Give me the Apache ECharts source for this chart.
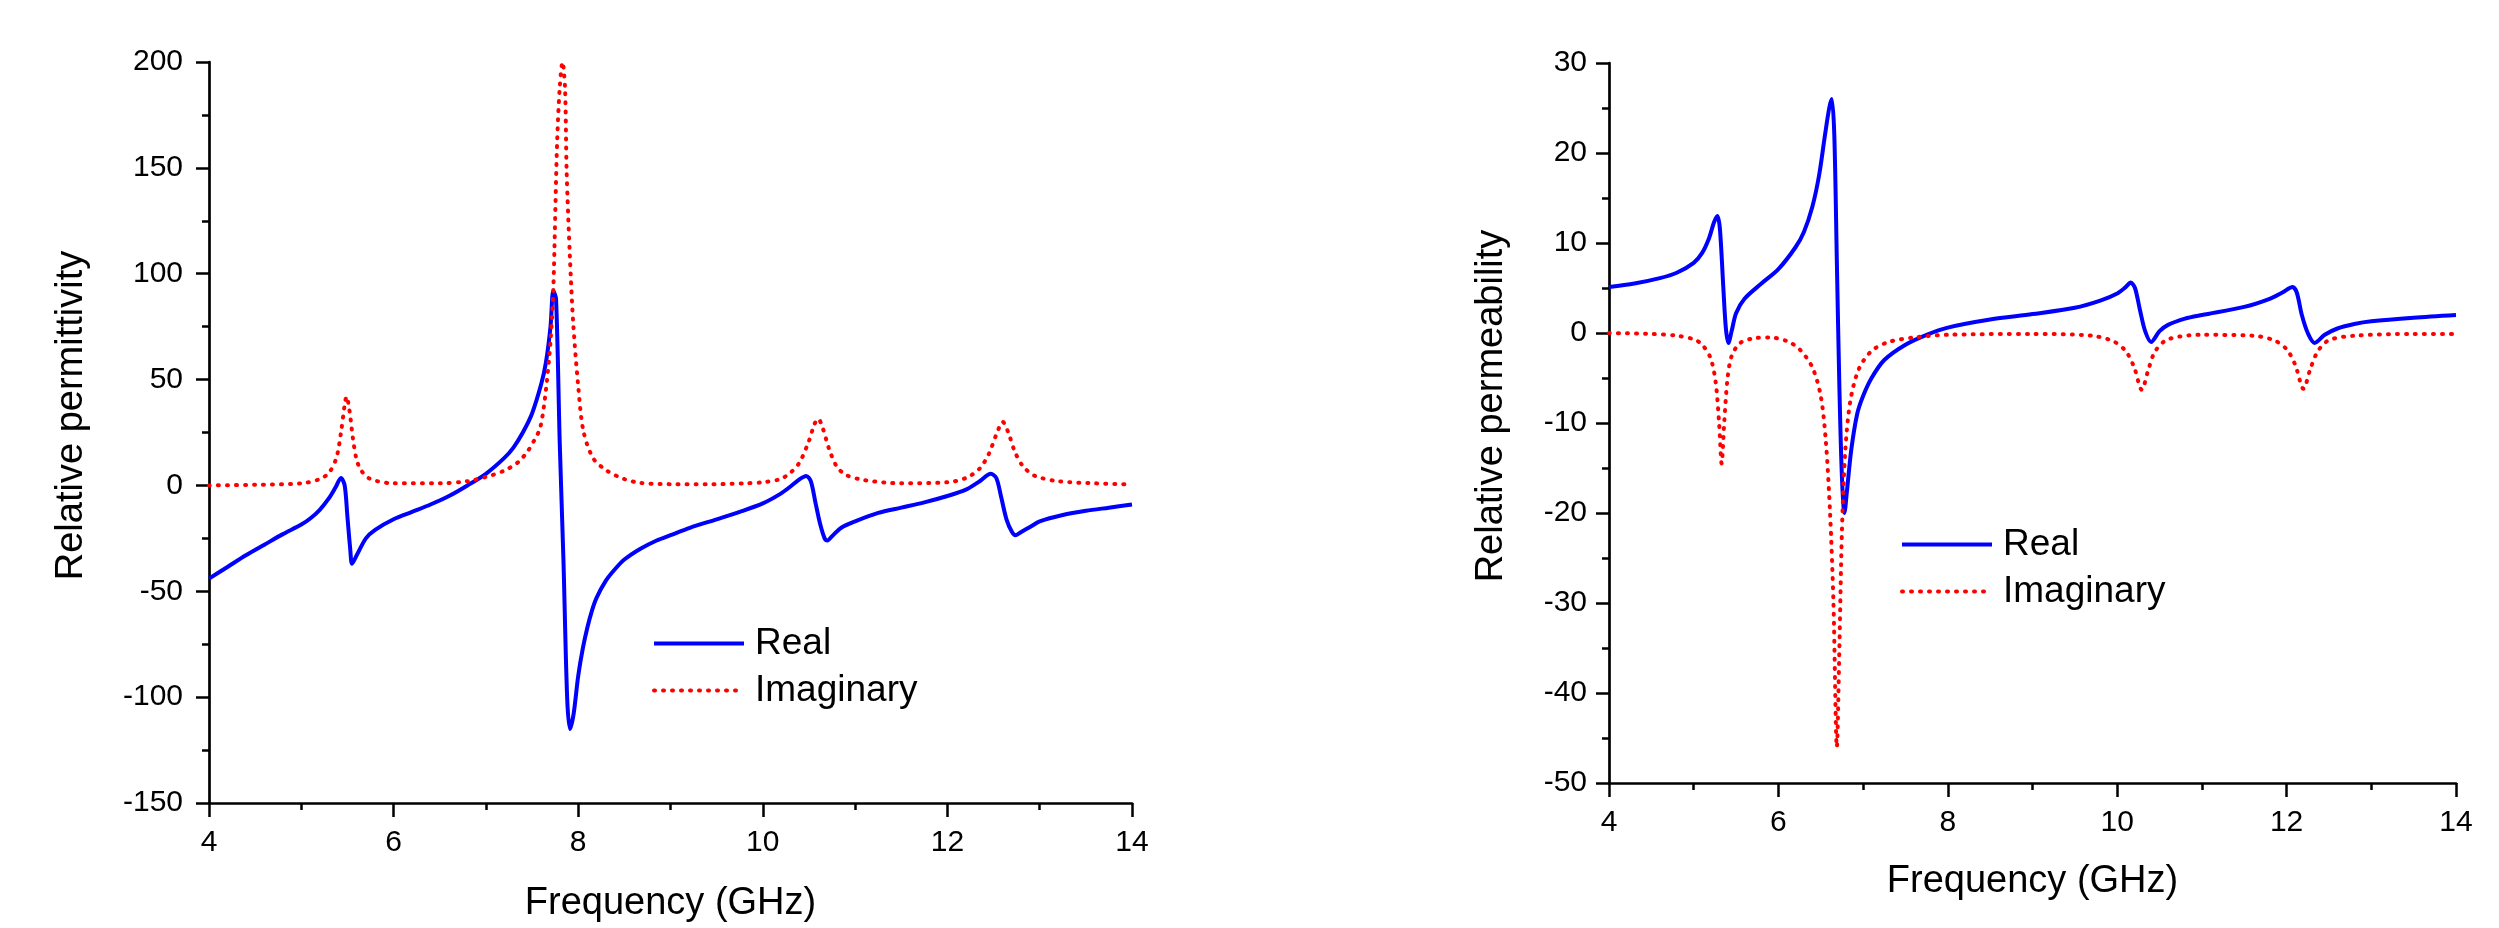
<!DOCTYPE html>
<html style="height: 100%">
<head>
  <meta charset="utf-8" />
  <title>Relative permittivity and permeability</title>
  <script src="https://cdn.jsdelivr.net/npm/echarts@6/dist/echarts.min.js"></script>
</head>
<body style="height: 100%; margin: 0; background: #fff">
  <div id="chart" style="width: 2499px; height: 928px"></div>
  <script>
    // permittivity (left panel)
    const epsRealFreq = [4.0, 4.2, 4.4, 4.6, 4.8, 5.0, 5.1, 5.2, 5.3, 5.37, 5.43, 5.47, 5.5, 5.53, 5.55, 5.6, 5.7, 5.8, 6.0, 6.2, 6.4, 6.6, 6.8, 7.0, 7.2, 7.3, 7.4, 7.5, 7.6, 7.65, 7.7, 7.73, 7.76, 7.8, 7.84, 7.88, 7.91, 7.95, 8.0, 8.05, 8.1, 8.15, 8.2, 8.3, 8.4, 8.5, 8.67, 8.85, 9.0, 9.21, 9.5, 9.75, 10.0, 10.19, 10.3, 10.4, 10.47, 10.52, 10.57, 10.62, 10.67, 10.7, 10.75, 10.85, 11.0, 11.25, 11.5, 11.75, 12.0, 12.2, 12.35, 12.47, 12.53, 12.58, 12.64, 12.7, 12.74, 12.8, 12.9, 13.0, 13.25, 13.5, 13.75, 14.0];
    const epsReal = [-44, -38.5, -33, -28, -23, -18.5, -15.5, -11.5, -6, -1, 3.5, 0, -15, -30, -37, -33, -25, -21, -16, -12.5, -9, -5, 0, 5.5, 13, 18, 25, 34, 48, 58, 75, 92, 88, 20, -35, -100, -115, -108, -90, -77, -67, -59, -53, -45, -39.5, -35, -30, -26, -23.5, -20, -16, -12.5, -8.5, -4, -0.5, 3, 4.5, 2, -8, -18, -25, -26, -24, -20, -17, -13, -10.5, -8, -5, -2, 2, 5.5, 3.5, -5, -16, -22, -23.5, -22, -19.5, -17, -14, -12, -10.5, -9];
    const epsImagFreq = [4.0, 4.5, 5.0, 5.2, 5.3, 5.38, 5.43, 5.47, 5.49, 5.52, 5.56, 5.6, 5.65, 5.75, 6.0, 6.5, 6.8, 7.0, 7.2, 7.35, 7.45, 7.52, 7.59, 7.65, 7.7, 7.73, 7.77, 7.8, 7.83, 7.857, 7.875, 7.91, 7.947, 8.0, 8.055, 8.16, 8.31, 8.5, 8.67, 9.0, 9.4, 9.8, 10.0, 10.19, 10.3, 10.4, 10.5, 10.56, 10.6, 10.65, 10.72, 10.8, 10.9, 11.1, 11.5, 12.0, 12.2, 12.35, 12.45, 12.53, 12.6, 12.66, 12.73, 12.82, 12.95, 13.2, 13.6, 14.0];
    const epsImag = [0, 0.3, 1, 3, 6, 13, 25, 38, 42, 36, 22, 12, 7, 3, 1, 1, 2, 4, 7, 11, 16, 21, 27.5, 45, 68, 92, 160, 188, 200, 188, 148, 108, 76, 47, 26, 13, 7, 3, 1.2, 0.6, 0.5, 1, 1.5, 3, 6, 11, 21, 29, 31.5, 27, 17, 9, 5, 2.5, 1, 1.5, 3.5, 8, 15, 24, 30, 25, 16, 9, 4.5, 2, 1, 0.5];

    // permeability (right panel)
    const muRealFreq = [4.0, 4.3, 4.6, 4.8, 5.0, 5.1, 5.18, 5.24, 5.28, 5.31, 5.35, 5.38, 5.41, 5.45, 5.5, 5.6, 5.8, 6.0, 6.2, 6.3, 6.4, 6.48, 6.55, 6.6, 6.63, 6.66, 6.69, 6.72, 6.75, 6.78, 6.81, 6.86, 6.93, 7.0, 7.1, 7.25, 7.5, 7.75, 8.0, 8.5, 9.0, 9.5, 9.8, 10.0, 10.1, 10.16, 10.21, 10.27, 10.33, 10.4, 10.5, 10.6, 10.8, 11.0, 11.5, 11.8, 11.95, 12.07, 12.12, 12.18, 12.25, 12.33, 12.45, 12.6, 12.8, 13.0, 13.5, 14.0];
    const muReal = [5.1, 5.5, 6.1, 6.7, 7.8, 8.9, 10.5, 12.3, 13, 11.5, 5, 0.5, -1.1, 0.3, 2.2, 3.8, 5.5, 7.1, 9.5, 11.2, 14, 17.5, 22, 25, 26, 22, 8, -6, -16, -20, -17.5, -13, -9, -7, -5, -3, -1.3, -0.2, 0.6, 1.5, 2.1, 2.8, 3.6, 4.4, 5.1, 5.6, 5, 2.5, 0.2, -1, 0.2, 0.9, 1.6, 2, 2.9, 3.8, 4.5, 5.1, 4.5, 2, 0, -1.1, -0.2, 0.5, 1, 1.3, 1.7, 2.0];
    const muImagFreq = [4.0, 4.5, 4.8, 5.0, 5.1, 5.2, 5.26, 5.3, 5.33, 5.36, 5.4, 5.45, 5.55, 5.7, 5.9, 6.1, 6.25, 6.4, 6.5, 6.56, 6.61, 6.65, 6.69, 6.72, 6.75, 6.79, 6.85, 6.95, 7.1, 7.3, 7.6, 8.0, 9.0, 9.7, 9.95, 10.1, 10.2, 10.29, 10.37, 10.45, 10.6, 11.0, 11.6, 11.85, 12.0, 12.1, 12.2, 12.28, 12.37, 12.5, 12.8, 13.5, 14.0];
    const muImag = [0, -0.1, -0.3, -0.7, -1.3, -2.8, -5.5, -10, -14.5, -10, -5, -2.5, -1.1, -0.6, -0.5, -0.9, -1.8, -3.8, -7, -12, -20, -30, -46, -35, -22, -13, -7.5, -4, -2, -1, -0.5, -0.2, -0.1, -0.3, -0.9, -2, -3.8, -6.3, -4, -2, -0.7, -0.2, -0.3, -0.8, -1.8, -3.5, -6.2, -4, -2, -0.8, -0.3, -0.1, -0.1];

    const freqTicks = { min: 4, max: 14, interval: 2 };
    const epsTicks = { min: -150, max: 200, interval: 50 };
    const muTicks = { min: -50, max: 30, interval: 10 };

    const font = 'Liberation Sans, Arial, sans-serif';
    const pairs = (xs, ys) => xs.map((x, i) => [x, ys[i]]);

    function xAxis(gridIndex, nameGap) {
      return {
        type: 'value', gridIndex: gridIndex,
        min: freqTicks.min, max: freqTicks.max, interval: freqTicks.interval,
        name: 'Frequency (GHz)', nameLocation: 'middle', nameGap: nameGap,
        nameTextStyle: { fontFamily: font, fontSize: 38, color: '#000' },
        axisLine: { onZero: false, lineStyle: { color: '#000', width: 2.7 } },
        axisTick: { length: 14, lineStyle: { color: '#000', width: 2.5 } },
        minorTick: { show: true, splitNumber: 2, length: 7, lineStyle: { color: '#000', width: 2.5 } },
        axisLabel: { fontFamily: font, fontSize: 30, color: '#000', margin: 25 },
        splitLine: { show: false }
      };
    }

    function yAxis(gridIndex, ticks, name, nameGap, labelMargin) {
      return {
        type: 'value', gridIndex: gridIndex,
        min: ticks.min, max: ticks.max, interval: ticks.interval,
        name: name, nameLocation: 'middle', nameGap: nameGap,
        nameTextStyle: { fontFamily: font, fontSize: 38, color: '#000', padding: [0, 0, 0, 34] },
        axisLine: { onZero: false, lineStyle: { color: '#000', width: 2.7 } },
        axisTick: { length: 13, lineStyle: { color: '#000', width: 2.5 } },
        minorTick: { show: true, splitNumber: 2, length: 7, lineStyle: { color: '#000', width: 2.5 } },
        axisLabel: { fontFamily: font, fontSize: 30, color: '#000', margin: labelMargin },
        splitLine: { show: false }
      };
    }

    const realStyle = { color: '#0000ff', width: 4 };
    const imagStyle = { color: '#ff0000', width: 4, type: [1, 8], cap: 'round' };

    function line(name, xi, data, style) {
      return {
        name: name, type: 'line', xAxisIndex: xi, yAxisIndex: xi,
        data: data, showSymbol: false, symbol: 'none', smooth: 0.3,
        lineStyle: style, itemStyle: { color: style.color }, animation: false
      };
    }

    function legend(left, top) {
      return {
        orient: 'vertical', left: left, top: top, padding: 0,
        itemWidth: 90, itemHeight: 14, itemGap: 10,
        itemStyle: { opacity: 0 },
        textStyle: { fontFamily: font, fontSize: 37, color: '#000', padding: [0, 0, 0, 6] },
        data: [
          { name: 'Real', lineStyle: { width: 4 } },
          { name: 'Imaginary', lineStyle: { width: 4 } }
        ]
      };
    }

    const chart = echarts.init(document.getElementById('chart'));
    chart.setOption({
      backgroundColor: '#fff',
      animation: false,
      legend: [legend(652, 625), legend(1900, 526)],
      grid: [
        { left: 209, right: 1367, top: 62, bottom: 121 },
        { left: 1609, right: 43, top: 63, bottom: 145 }
      ],
      xAxis: [xAxis(0, 82), xAxis(1, 80)],
      yAxis: [
        yAxis(0, epsTicks, 'Relative permittivity', 118, 26),
        yAxis(1, muTicks, 'Relative permeability', 98, 22)
      ],
      series: [
        line('Real', 0, pairs(epsRealFreq, epsReal), realStyle),
        line('Imaginary', 0, pairs(epsImagFreq, epsImag), imagStyle),
        line('Real', 1, pairs(muRealFreq, muReal), realStyle),
        line('Imaginary', 1, pairs(muImagFreq, muImag), imagStyle)
      ]
    });
  </script>
</body>
</html>
